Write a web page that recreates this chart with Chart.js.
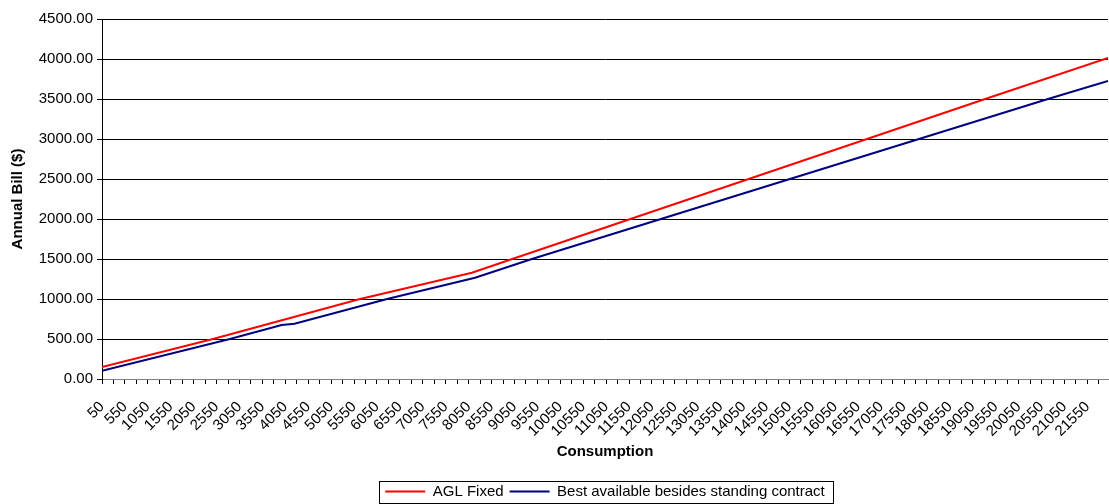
<!DOCTYPE html>
<html>
<head>
<meta charset="utf-8">
<script src="https://cdn.jsdelivr.net/npm/chart.js@4/dist/chart.umd.min.js"></script>
<style>
html, body { margin: 0; padding: 0; background: #fff; }
#wrap { width: 1109px; height: 504px; }
</style>
</head>
<body>
<div id="wrap"><canvas id="chart"></canvas></div>
<script>
// values (consumption -> annual bill)
const aglUsage = [50, 2470, 5680, 8120, 9000, 19320, 22000];
const aglBill = [150, 500, 1000, 1329, 1500, 3500, 4014];
const bestUsage = [50, 2840, 3970, 4250, 6270, 8190, 9430, 20690, 22000];
const bestBill = [104, 500, 675, 690, 1000, 1266, 1500, 3500, 3725];

const seriesNames = ['AGL Fixed', 'Best available besides standing contract'];

// x axis: a tick every 250, a label every 500 (50 ... 21550)
const xFirst = 50, xLast = 22000, tickStep = 250, labelStep = 500, lastLabel = 21550;
const yTicks = [0, 500, 1000, 1500, 2000, 2500, 3000, 3500, 4000, 4500];

Chart.defaults.font.family = '"Liberation Sans", Arial, sans-serif';
Chart.defaults.font.size = 15;
Chart.defaults.color = '#000';

function toPoints(xs, ys) {
    return xs.map((x, i) => ({ x: x, y: ys[i] }));
}

// Excel-style frame round the legend
const legendFrame = {
    id: 'legendFrame',
    afterDraw(chart) {
        const boxes = chart.legend && chart.legend.legendHitBoxes;
        if (!boxes || !boxes.length) return;
        const ctx = chart.ctx;
        const left = Math.min(...boxes.map(b => b.left)) - 6;
        const right = Math.max(...boxes.map(b => b.left + b.width)) + 8;
        const top = boxes[0].top - 3;
        const bottom = boxes[0].top + boxes[0].height + 4;
        ctx.save();
        ctx.strokeStyle = '#000';
        ctx.lineWidth = 1;
        ctx.strokeRect(Math.round(left) + 0.5, Math.round(top) + 0.5, Math.round(right - left), Math.round(bottom - top));
        ctx.restore();
    }
};

const ctx = document.getElementById('chart').getContext('2d');
new Chart(ctx, {
    type: 'line',
    data: {
        datasets: [{
            label: seriesNames[0],
            data: toPoints(aglUsage, aglBill),
            borderColor: '#ff0000',
            backgroundColor: '#ff0000',
            borderWidth: 2,
            pointRadius: 0,
            tension: 0
        }, {
            label: seriesNames[1],
            data: toPoints(bestUsage, bestBill),
            borderColor: '#000080',
            backgroundColor: '#000080',
            borderWidth: 2,
            pointRadius: 0,
            tension: 0
        }]
    },
    options: {
        responsive: true,
        maintainAspectRatio: false,
        animation: false,
        layout: { padding: { top: 19, right: 1, left: 0, bottom: -5 } },
        plugins: {
            tooltip: { enabled: false },
            legend: {
                position: 'bottom',
                fullSize: false,
                labels: {
                    usePointStyle: true,
                    pointStyle: 'line',
                    pointStyleWidth: 40,
                    padding: 6,
                    font: { size: 15 }
                }
            }
        },
        scales: {
            x: {
                type: 'linear',
                min: xFirst,
                max: xLast,
                afterBuildTicks: (scale) => {
                    const ticks = [];
                    for (let v = xFirst; v <= xLast; v += tickStep) ticks.push({ value: v });
                    scale.ticks = ticks;
                },
                afterFit: (scale) => {
                    scale.height = 99;
                    scale.paddingLeft = 0;
                    scale.paddingRight = 0;
                },
                ticks: {
                    autoSkip: false,
                    minRotation: 45,
                    maxRotation: 45,
                    padding: 14,
                    callback: (v) => ((v - xFirst) % labelStep === 0 && v <= lastLabel) ? String(v) : ''
                },
                grid: {
                    drawOnChartArea: false,
                    tickLength: 5,
                    color: '#000'
                },
                border: { color: '#808080' },
                title: {
                    display: true,
                    text: 'Consumption',
                    font: { size: 15, weight: 'bold' },
                    padding: 17
                }
            },
            y: {
                min: 0,
                max: 4500,
                afterBuildTicks: (scale) => { scale.ticks = yTicks.map(v => ({ value: v })); },
                afterFit: (scale) => { scale.width = 102; },
                ticks: {
                    padding: 4,
                    callback: (v) => Number(v).toFixed(2)
                },
                grid: {
                    color: '#000',
                    tickLength: 5
                },
                border: { color: '#000' },
                title: {
                    display: true,
                    text: 'Annual Bill ($)',
                    font: { size: 15, weight: 'bold' },
                    padding: 9
                }
            }
        }
    },
    plugins: [legendFrame]
});
</script>
</body>
</html>
